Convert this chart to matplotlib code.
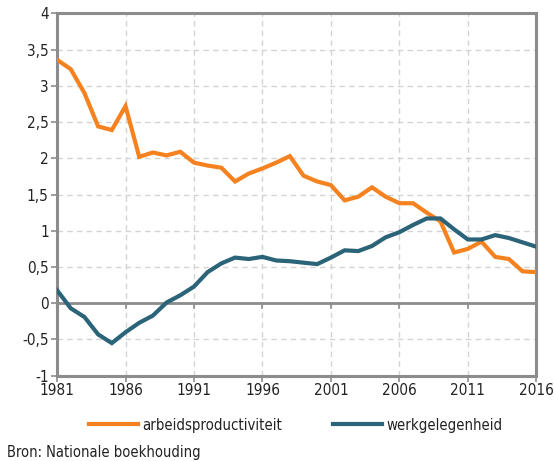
import matplotlib
matplotlib.use('Agg')
import matplotlib.pyplot as plt
from matplotlib.ticker import FuncFormatter

plt.rcParams['font.family'] = 'DejaVu Sans'
plt.rcParams['font.stretch'] = 'condensed'

years = list(range(1981, 2017))

# arbeidsproductiviteit
prod = [3.36, 3.23, 2.90, 2.44, 2.39, 2.72, 2.02, 2.08, 2.04, 2.09,
        1.94, 1.90, 1.87, 1.68, 1.79, 1.86, 1.94, 2.03, 1.76, 1.68,
        1.63, 1.42, 1.47, 1.60, 1.47, 1.38, 1.38, 1.25, 1.13, 0.70,
        0.75, 0.85, 0.64, 0.61, 0.44, 0.43]

# werkgelegenheid
werk = [0.18, -0.07, -0.19, -0.43, -0.55, -0.40, -0.27, -0.17, 0.01, 0.11,
        0.23, 0.43, 0.55, 0.63, 0.61, 0.64, 0.59, 0.58, 0.56, 0.54,
        0.63, 0.73, 0.72, 0.79, 0.91, 0.98, 1.08, 1.17, 1.17, 1.02,
        0.88, 0.88, 0.94, 0.90, 0.84, 0.78]

labels = ['arbeidsproductiviteit', 'werkgelegenheid']
colors = ['#F5821F', '#2B6478']

fig = plt.figure(figsize=(5.54, 4.61), dpi=100)
ax = fig.add_axes([0.103, 0.185, 0.865, 0.786])

ax.plot(years, prod, color=colors[0], lw=3, label=labels[0], solid_joinstyle='miter', zorder=3)
ax.plot(years, werk, color=colors[1], lw=3, label=labels[1], solid_joinstyle='miter', zorder=3)

ax.set_xlim(1981, 2016)
ax.set_ylim(-1, 4)
ax.set_xticks(range(1981, 2017, 5))
ax.set_yticks([-1, -0.5, 0, 0.5, 1, 1.5, 2, 2.5, 3, 3.5, 4])
ax.yaxis.set_major_formatter(FuncFormatter(lambda v, p: ('%g' % v).replace('.', ',')))

ax.grid(True, color='#D4D4D4', linestyle=(0, (4, 3)), lw=1)
ax.axhline(0, color='#8C8C8C', lw=2, zorder=2)
# small ticks on the zero line
for y in range(1986, 2016, 5):
    ax.plot([y, y], [0, -0.07], color='#8C8C8C', lw=1.2, zorder=2)

for s in ax.spines.values():
    s.set_color('#8C8C8C')
    s.set_linewidth(2.2)

ax.tick_params(axis='both', colors='#8C8C8C', length=4, width=1.2, labelsize=11,
               labelcolor='#222222')
ax.tick_params(axis='x', pad=1)
ax.tick_params(axis='y', pad=2)

fig.legend(loc='center', bbox_to_anchor=(0.534, 0.078), ncol=2, frameon=False,
           fontsize=10.7, handlelength=3.3, columnspacing=3.4, handletextpad=0.3,
           labelcolor='#222222')

fig.text(0.013, 0.008, 'Bron: Nationale boekhouding', fontsize=10.5, color='#222222')

fig.savefig('out.png', dpi=100)
